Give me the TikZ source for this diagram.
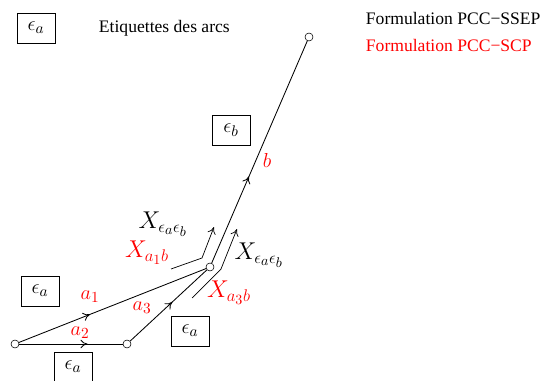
\documentclass[tikz,border=0pt]{standalone}
\usepackage{fontspec}
\setmainfont{Liberation Serif}
\usepackage{tikz}
\usetikzlibrary{arrows.meta, decorations.markings}
\definecolor{LabelRed}{HTML}{FF0000}
\tikzset{
    % Nodes of the graph
    vertex/.style={
        circle,
        draw,
        fill=white,
        inner sep=0pt,
        minimum size=0.2cm
    },
    labelbox/.style={
        rectangle,
        draw,
        line width=0.6pt,
        minimum width=0.95cm,
        minimum height=0.75cm,
        inner sep=0pt,
        font=\fontsize{15}{18}\selectfont
    },
    % Arcs with an arrow in the middle
    arc/.style={
        line width=0.6pt
    },
    midarrow/.style={
        postaction={decorate},
        decoration={markings, mark=at position #1 with {\arrow{To[length=5pt,width=6pt]}}}
    },
    flowarrow/.style={
        -{To[length=5pt,width=6pt]},
        line width=0.5pt
    },
    redlabel/.style={
        text=LabelRed,
        font=\fontsize{15.5}{18}\selectfont
    },
    bigmath/.style={
        font=\LARGE
    }
}

\begin{document}
\begin{tikzpicture}[x=0.025cm, y=-0.025cm, font=\fontsize{12.5}{15}\selectfont]
    \useasboundingbox (0,0) rectangle (540,381);

    % Legend
    \node[labelbox] (leg) at (36,28) {$\epsilon_a$};
    \node[anchor=west] (legtext) at (94,28) {Etiquettes des arcs};
    \node[anchor=west] (ssep) at (361,18) {Formulation PCC−SSEP};
    \node[anchor=west, text=LabelRed] (scp) at (361,45) {Formulation PCC−SCP};

    % Vertices
    \node[vertex] (s) at (15,344) {};
    \node[vertex] (m) at (127,344) {};
    \node[vertex] (c) at (210,267) {};
    \node[vertex] (t) at (309,37) {};

    % Arcs
    \draw[arc, midarrow=0.38] (s) -- (c);
    \draw[arc, midarrow=0.66] (s) -- (m);
    \draw[arc, midarrow=0.55] (m) -- (c);
    \draw[arc, midarrow=0.39] (c) -- (t);

    % Arc labels
    \node[labelbox] (ea1) at (40,291) {$\epsilon_a$};
    \node[labelbox] (ea2) at (73,367) {$\epsilon_a$};
    \node[labelbox] (ea3) at (190,331) {$\epsilon_a$};
    \node[labelbox] (eb) at (231,130) {$\epsilon_b$};

    \node[redlabel] (a1) at (90,297) {$a_1$};
    \node[redlabel] (a2) at (80,333) {$a_2$};
    \node[redlabel] (a3) at (142,308) {$a_3$};
    \node[redlabel] (b) at (267,160) {$b$};

    % Transitions at the middle vertex
    \coordinate (p1) at (171,269);
    \coordinate (p2) at (202,258);
    \coordinate (p3) at (214,227);
    \draw[flowarrow] (p1) -- (p2) -- (p3);
    \coordinate (q1) at (192,298);
    \coordinate (q2) at (221,269);
    \coordinate (q3) at (237,229);
    \draw[flowarrow] (q1) -- (q2) -- (q3);

    \node[bigmath] (xab1) at (163,224) {$X_{\epsilon_a\epsilon_b}$};
    \node[bigmath] (xab2) at (259,255) {$X_{\epsilon_a\epsilon_b}$};
    \node[bigmath, text=LabelRed] (xa1b) at (147,253) {$X_{a_1b}$};
    \node[bigmath, text=LabelRed] (xa3b) at (229,293) {$X_{a_3b}$};
\end{tikzpicture}
\end{document}
